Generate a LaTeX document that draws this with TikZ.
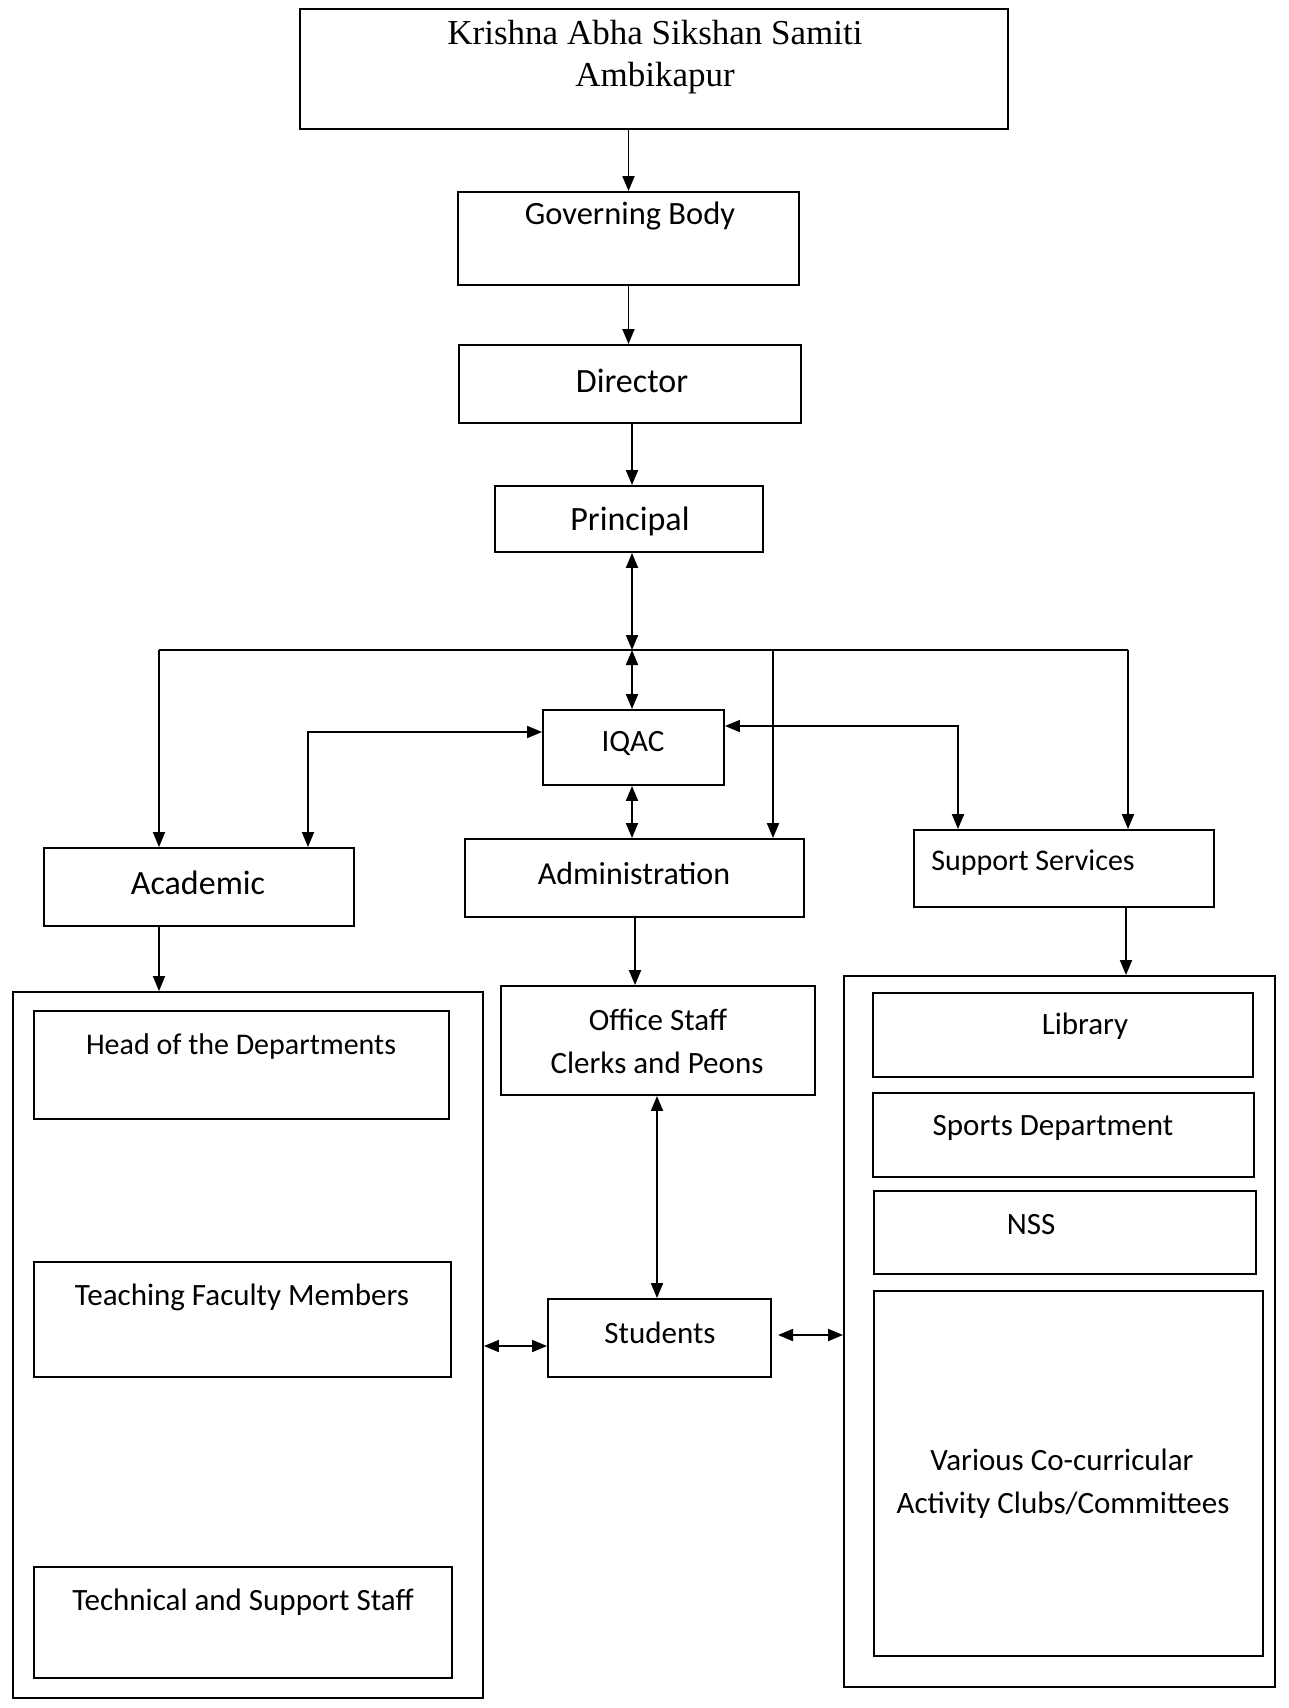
\documentclass[tikz,border=0pt]{standalone}
\usepackage{fontspec}
\setmainfont{Carlito}
\newfontfamily\serifface{Liberation Serif}
\usetikzlibrary{arrows.meta,calc}
\begin{document}
\begin{tikzpicture}[x=1pt,y=1pt,
  box/.style={draw, line width=1.9pt, inner sep=0pt},
  txt/.style={inner sep=0pt, font=\fontsize{31}{37}\selectfont},
  txtb/.style={inner sep=0pt, font=\fontsize{34}{40}\selectfont},
  txts/.style={inner sep=0pt, font=\serifface\fontsize{35}{42}\selectfont},
  conn/.style={line width=1.9pt},
  arr/.style={conn, -{Triangle[length=15pt,width=12pt]}},
  darr/.style={conn, {Triangle[length=15pt,width=12pt]}-{Triangle[length=15pt,width=12pt]}}
]
\useasboundingbox (0,0) rectangle (1289,-1708);
\fill[white] (0,0) rectangle (1289,-1708);

% boxes
\node[box, minimum width=708pt, minimum height=120pt] (top) at (654,-69) {};
\node[box, minimum width=341pt, minimum height=93pt] (gb) at (628.5,-238.5) {};
\node[box, minimum width=342pt, minimum height=78pt] (dir) at (630,-384) {};
\node[box, minimum width=268pt, minimum height=66pt] (prin) at (629,-519) {};
\node[box, minimum width=181pt, minimum height=75pt] (iqac) at (633.5,-747.5) {};
\node[box, minimum width=310pt, minimum height=78pt] (acad) at (199,-887) {};
\node[box, minimum width=339pt, minimum height=78pt] (admin) at (634.5,-878) {};
\node[box, minimum width=300pt, minimum height=77pt] (supp) at (1064,-868.5) {};
\node[box, minimum width=470pt, minimum height=706pt] (left) at (248,-1345) {};
\node[box, minimum width=415pt, minimum height=108pt] (hod) at (241.5,-1065) {};
\node[box, minimum width=417pt, minimum height=115pt] (tfm) at (242.5,-1319.5) {};
\node[box, minimum width=418pt, minimum height=111pt] (tss) at (243,-1622.5) {};
\node[box, minimum width=314pt, minimum height=109pt] (office) at (658,-1040.5) {};
\node[box, minimum width=223pt, minimum height=78pt] (stud) at (659.5,-1338) {};
\node[box, minimum width=431pt, minimum height=711pt] (right) at (1059.5,-1331.5) {};
\node[box, minimum width=380pt, minimum height=84pt] (lib) at (1063,-1035) {};
\node[box, minimum width=381pt, minimum height=84pt] (sports) at (1063.5,-1135) {};
\node[box, minimum width=382pt, minimum height=83pt] (nss) at (1065,-1232.5) {};
\node[box, minimum width=389pt, minimum height=365pt] (various) at (1068.5,-1473.5) {};

% texts
\node[txts] (t1) at (655,-33) {Krishna Abha Sikshan Samiti};
\node[txts] (t2) at (655,-78) {Ambikapur};
\node[txt, font=\fontsize{32.5}{38}\selectfont] (tgb) at (630,-216) {Governing Body};
\node[txtb] (tdir) at (632,-381) {Director};
\node[txtb] (tprin) at (630,-521) {Principal};
\node[txt] (tiqac) at (633,-743) {IQAC};
\node[txtb] (tacad) at (198,-883) {Academic};
\node[txt, font=\fontsize{32}{38}\selectfont] (tadmin) at (634,-873) {Administration};
\node[txt, font=\fontsize{30}{36}\selectfont] (tsupp) at (1033,-863) {Support Services};
\node[txt, font=\fontsize{30}{36}\selectfont] (thod) at (241,-1046) {Head of the Departments};
\node[txt] (ttfm) at (242,-1297) {Teaching Faculty Members};
\node[txt] (ttss) at (243,-1602) {Technical and Support Staff};
\node[txt] (toff1) at (658,-1020) {Office Staff};
\node[txt] (toff2) at (657,-1063) {Clerks and Peons};
\node[txt] (tstud) at (660,-1333) {Students};
\node[txt] (tlib) at (1085,-1026) {Library};
\node[txt] (tsports) at (1053,-1128) {Sports Department};
\node[txt] (tnss) at (1031,-1225) {NSS};
\node[txt] (tvar1) at (1062,-1460) {Various Co-curricular};
\node[txt] (tvar2) at (1063,-1505) {Activity Clubs/Committees};

% coordinates
\coordinate (busC) at (632,-650);
\coordinate (busL) at (159,-650);
\coordinate (busA) at (773,-650);
\coordinate (busR) at (1128,-650);
\coordinate (iqL) at (308,-732);
\coordinate (iqR) at (958,-726);
\coordinate (sr) at (778,-1335);
\coordinate (ao) at (635,0);
\coordinate (so) at (1126,0);
\coordinate (os) at (657,0);
\coordinate (ls) at (0,-1346);

% connectors
\draw[arr] (top.south -| gb.north) -- (gb.north);
\draw[arr] (gb.south) -- (gb.south |- dir.north);
\draw[arr] (dir.south -| busC) -- (prin.north -| busC);
\draw[darr] (prin.south -| busC) -- (busC);
\draw[conn] (busL) -- (busR);
\draw[darr] (busC) -- (iqac.north -| busC);
\draw[arr] (busL) -- (busL |- acad.north);
\draw[arr] (busA) -- (busA |- admin.north);
\draw[arr] (busR) -- (busR |- supp.north);
\draw[darr] (iqac.west |- iqL) -- (iqL) -- (iqL |- acad.north);
\draw[darr] (iqac.east |- iqR) -- (iqR) -- (iqR |- supp.north);
\draw[darr] (iqac.south -| busC) -- (admin.north -| busC);
\draw[arr] (acad.south -| busL) -- (left.north -| busL);
\draw[arr] (admin.south -| ao) -- (office.north -| ao);
\draw[arr] (supp.south -| so) -- (right.north -| so);
\draw[darr] (office.south -| os) -- (stud.north -| os);
\draw[darr] (left.east |- ls) -- (stud.west |- ls);
\draw[darr] (sr) -- (right.west |- sr);
\end{tikzpicture}
\end{document}
